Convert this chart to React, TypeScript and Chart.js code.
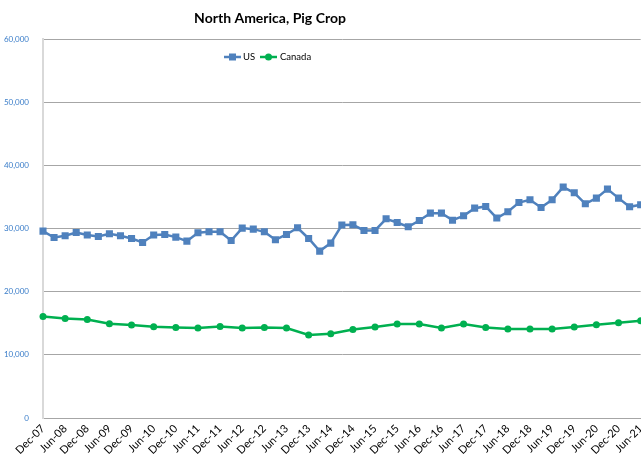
import React, { useEffect, useRef } from "react";
import { Chart, registerables } from "chart.js";

Chart.register(...registerables);

const TITLE = "North America, Pig Crop";

const quarterLabels: string[] = [
  "Dec-07", "Mar-08", "Jun-08", "Sep-08", "Dec-08", "Mar-09", "Jun-09", "Sep-09",
  "Dec-09", "Mar-10", "Jun-10", "Sep-10", "Dec-10", "Mar-11", "Jun-11", "Sep-11",
  "Dec-11", "Mar-12", "Jun-12", "Sep-12", "Dec-12", "Mar-13", "Jun-13", "Sep-13",
  "Dec-13", "Mar-14", "Jun-14", "Sep-14", "Dec-14", "Mar-15", "Jun-15", "Sep-15",
  "Dec-15", "Mar-16", "Jun-16", "Sep-16", "Dec-16", "Mar-17", "Jun-17", "Sep-17",
  "Dec-17", "Mar-18", "Jun-18", "Sep-18", "Dec-18", "Mar-19", "Jun-19", "Sep-19",
  "Dec-19", "Mar-20", "Jun-20", "Sep-20", "Dec-20", "Mar-21", "Jun-21",
];

// US pig crop, quarterly (thousand head)
const usValues: number[] = [
  29590, 28580, 28850, 29370, 28960, 28740, 29160, 28850, 28420, 27790,
  28960, 29050, 28640, 28000, 29320, 29480, 29480, 28100, 30060, 29900,
  29480, 28210, 29050, 30110, 28420, 26420, 27690, 30540, 30590, 29690,
  29690, 31530, 30950, 30270, 31270, 32430, 32430, 31320, 32010, 33220,
  33490, 31650, 32640, 34110, 34540, 33320, 34540, 36550, 35650, 33910,
  34810, 36230, 34810, 33430, 33750,
];

// Canada pig crop, semi-annual (Dec / Jun)
const canadaValues: number[] = [
  16080, 15760, 15600, 14920, 14710, 14450, 14340, 14240, 14500, 14240,
  14340, 14240, 13130, 13340, 14020, 14400, 14870, 14870, 14240, 14870,
  14340, 14080, 14080, 14080, 14400, 14760, 15080, 15400,
];

const yMin = 0;
const yMax = 60000;
const yStep = 10000;

const US_COLOR = "#4F81BD";
const CA_COLOR = "#00B050";
const FONT = "Lato, 'Open Sans', sans-serif";

export default function App() {
  const canvasRef = useRef<HTMLCanvasElement | null>(null);

  useEffect(() => {
    if (!canvasRef.current) return;
    const canadaSeries: (number | null)[] = quarterLabels.map((_, i) =>
      i % 2 === 0 ? canadaValues[i / 2] ?? null : null
    );

    const overlay = {
      id: "overlayText",
      afterDraw(chart: any) {
        const ctx = chart.ctx as CanvasRenderingContext2D;
        ctx.save();
        ctx.fillStyle = "#000000";
        ctx.font = `bold 14px ${FONT}`;
        ctx.textAlign = "center";
        ctx.textBaseline = "alphabetic";
        ctx.fillText(TITLE, 270, 23);

        // legend
        const ly = 57;
        ctx.font = `9.5px ${FONT}`;
        ctx.textAlign = "left";
        ctx.textBaseline = "middle";
        // US
        ctx.strokeStyle = US_COLOR;
        ctx.lineWidth = 2.5;
        ctx.beginPath();
        ctx.moveTo(224, ly);
        ctx.lineTo(241, ly);
        ctx.stroke();
        ctx.fillStyle = US_COLOR;
        ctx.fillRect(229, ly - 3.5, 7, 7);
        ctx.fillStyle = "#000000";
        ctx.fillText(chart.data.datasets[0].label, 243, ly);
        // Canada
        ctx.strokeStyle = CA_COLOR;
        ctx.beginPath();
        ctx.moveTo(260, ly);
        ctx.lineTo(277, ly);
        ctx.stroke();
        ctx.fillStyle = CA_COLOR;
        ctx.beginPath();
        ctx.arc(268.5, ly, 3.5, 0, Math.PI * 2);
        ctx.fill();
        ctx.fillStyle = "#000000";
        ctx.fillText(chart.data.datasets[1].label, 280, ly);
        ctx.restore();
      },
    };

    const chart = new Chart(canvasRef.current, {
      type: "line",
      data: {
        labels: quarterLabels,
        datasets: [
          {
            label: "US",
            data: usValues,
            borderColor: US_COLOR,
            backgroundColor: US_COLOR,
            borderWidth: 2.5,
            pointStyle: "rect",
            pointRadius: 5,
            pointBorderWidth: 0,
            tension: 0,
          },
          {
            label: "Canada",
            data: canadaSeries,
            borderColor: CA_COLOR,
            backgroundColor: CA_COLOR,
            borderWidth: 2.5,
            pointStyle: "circle",
            pointRadius: 3.5,
            pointBorderWidth: 0,
            spanGaps: true,
            tension: 0,
          },
        ],
      },
      options: {
        animation: false,
        responsive: true,
        maintainAspectRatio: false,
        layout: { padding: { top: 39, left: 0, right: 0, bottom: 0 } },
        plugins: {
          legend: { display: false },
          title: { display: false },
          tooltip: { enabled: false },
        },
        scales: {
          x: {
            type: "category",
            offset: false,
            grid: { display: false, drawTicks: false },
            border: { display: true, color: "#A6A6A6", width: 1 },
            afterFit: (scale: any) => {
              scale.height = 46;
            },
            ticks: {
              autoSkip: false,
              maxRotation: 45,
              minRotation: 45,
              padding: 4,
              color: "#000000",
              font: { family: FONT, size: 11 },
              callback: (_v: any, i: number) => (i % 2 === 0 ? quarterLabels[i] : ""),
            },
          },
          y: {
            min: yMin,
            max: yMax,
            grid: { color: "#A6A6A6", lineWidth: 1, drawTicks: false },
            border: { display: true, color: "#D9D9D9", width: 2 },
            afterFit: (scale: any) => {
              scale.width = 43;
            },
            ticks: {
              stepSize: yStep,
              padding: 14,
              color: "#3A7DC9",
              font: { family: FONT, size: 8 },
              callback: (v: any) => Number(v).toLocaleString("en-US"),
            },
          },
        },
      },
      plugins: [overlay],
    });
    return () => chart.destroy();
  }, []);

  return (
    <div
      style={{
        position: "fixed",
        left: 0,
        top: 0,
        width: 641,
        height: 464,
        overflow: "hidden",
        background: "#ffffff",
      }}
    >
      <div style={{ position: "relative", width: 654, height: 464 }}>
        <canvas ref={canvasRef} />
      </div>
    </div>
  );
}
